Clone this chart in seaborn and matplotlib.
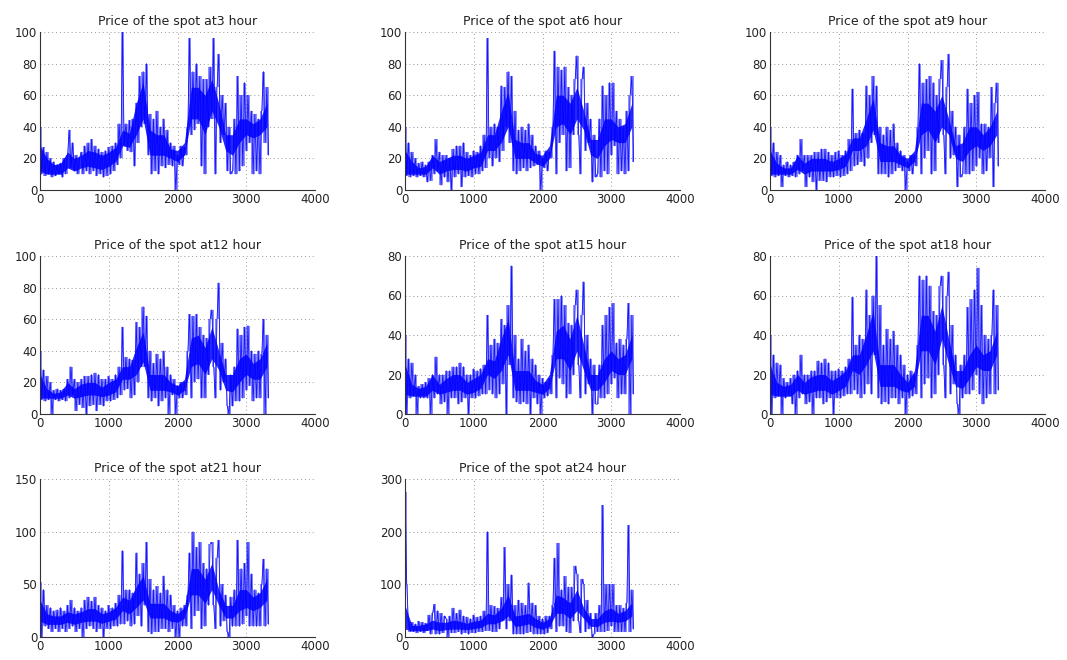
import numpy as np
import pandas as pd
import matplotlib
matplotlib.use("Agg")
import matplotlib.pyplot as plt
import seaborn as sns

# Daily spot price, sampled every 25 days, for eight hours of the day
step = 25
hours = [3, 6, 9, 12, 15, 18, 21, 24]

h3 = [
    40, 10, 27, 9, 24, 10, 20, 8,
    18, 9, 16, 10, 17, 8, 20, 10,
    22, 38, 14, 30, 12, 22, 10, 20,
    24, 10, 28, 12, 30, 10, 32, 12,
    28, 9, 26, 10, 24, 8, 25, 9,
    27, 10, 28, 12, 30, 16, 42, 20,
    100, 28, 42, 25, 44, 24, 45, 15,
    55, 30, 72, 40, 75, 42, 80, 22,
    48, 10, 45, 12, 50, 10, 40, 15,
    45, 14, 38, 16, 30, 15, 28, 0,
    22, 16, 28, 15, 27, 22, 40, 96,
    35, 75, 38, 80, 42, 72, 15, 70,
    10, 70, 40, 78, 45, 96, 10, 65,
    86, 30, 60, 35, 55, 12, 40, 10,
    12, 45, 10, 72, 12, 60, 15, 68,
    25, 60, 30, 50, 10, 48, 12, 45,
    10, 50, 75, 30, 65, 22]

h6 = [
    40, 9, 30, 8, 24, 9, 20, 8,
    17, 9, 18, 8, 16, 5, 18, 6,
    22, 10, 32, 12, 24, 3, 22, 8,
    22, 5, 20, 0, 26, 8, 28, 10,
    28, 2, 30, 8, 24, 9, 22, 8,
    25, 10, 24, 10, 28, 12, 35, 14,
    96, 20, 40, 15, 42, 20, 40, 18,
    66, 25, 65, 40, 75, 30, 72, 12,
    50, 10, 38, 12, 40, 14, 38, 12,
    42, 14, 35, 15, 28, 16, 25, 0,
    20, 14, 25, 12, 24, 20, 40, 88,
    10, 78, 30, 76, 35, 78, 12, 65,
    14, 60, 35, 70, 85, 35, 10, 70,
    78, 25, 55, 30, 45, 5, 35, 8,
    10, 45, 8, 66, 12, 60, 10, 68,
    22, 68, 28, 50, 10, 45, 12, 40,
    10, 50, 12, 60, 72, 18]

h9 = [
    40, 9, 30, 8, 24, 9, 22, 2,
    16, 9, 18, 8, 16, 9, 18, 8,
    22, 10, 32, 12, 22, 2, 22, 8,
    22, 5, 24, 0, 24, 6, 26, 6,
    26, 5, 24, 8, 22, 8, 24, 9,
    25, 8, 22, 9, 25, 10, 32, 12,
    64, 15, 36, 16, 38, 18, 36, 15,
    66, 20, 60, 30, 72, 35, 66, 10,
    40, 10, 35, 10, 40, 8, 38, 10,
    42, 12, 30, 14, 25, 12, 22, 0,
    18, 12, 22, 10, 22, 15, 40, 80,
    10, 68, 20, 70, 25, 72, 10, 68,
    12, 60, 30, 70, 82, 35, 10, 65,
    86, 20, 50, 22, 40, 2, 35, 8,
    10, 40, 10, 64, 10, 55, 12, 60,
    15, 62, 20, 42, 10, 42, 12, 40,
    20, 65, 2, 55, 68, 15]

h12 = [
    40, 9, 28, 8, 24, 9, 20, 0,
    15, 9, 16, 8, 15, 9, 16, 8,
    22, 10, 30, 12, 22, 2, 20, 6,
    22, 4, 24, 0, 24, 5, 25, 6,
    26, 2, 25, 6, 22, 5, 22, 8,
    24, 8, 22, 9, 25, 10, 30, 12,
    55, 15, 36, 16, 35, 10, 34, 12,
    58, 20, 55, 30, 68, 30, 62, 10,
    40, 8, 32, 10, 38, 5, 35, 8,
    40, 10, 30, 0, 25, 12, 22, 0,
    18, 10, 20, 10, 20, 12, 40, 63,
    10, 62, 20, 63, 22, 55, 10, 50,
    10, 48, 25, 60, 66, 30, 10, 60,
    83, 15, 45, 20, 35, 5, 0, 25,
    5, 30, 8, 54, 8, 50, 10, 55,
    15, 56, 18, 40, 8, 38, 10, 40,
    10, 38, 60, 0, 50, 10]

h15 = [
    40, 0, 28, 8, 26, 9, 20, 0,
    14, 8, 15, 8, 16, 8, 18, 0,
    20, 8, 29, 10, 20, 5, 20, 6,
    22, 0, 22, 8, 24, 8, 24, 5,
    26, 6, 24, 8, 20, 0, 20, 8,
    23, 8, 22, 9, 23, 10, 25, 10,
    50, 12, 35, 10, 38, 8, 36, 10,
    48, 15, 45, 0, 55, 25, 75, 8,
    40, 6, 28, 5, 38, 6, 32, 5,
    35, 0, 28, 8, 25, 5, 20, 0,
    18, 8, 16, 9, 18, 10, 30, 58,
    8, 58, 18, 60, 15, 55, 8, 46,
    10, 45, 20, 55, 63, 25, 8, 50,
    67, 10, 40, 15, 28, 0, 25, 5,
    5, 25, 8, 45, 8, 50, 10, 54,
    15, 56, 18, 36, 8, 38, 10, 35,
    10, 38, 56, 0, 50, 10]

h18 = [
    40, 0, 30, 8, 26, 9, 25, 0,
    18, 8, 16, 9, 18, 5, 20, 0,
    22, 8, 30, 10, 20, 5, 20, 6,
    22, 0, 22, 8, 27, 8, 26, 5,
    28, 6, 26, 8, 22, 0, 22, 8,
    23, 8, 22, 9, 24, 10, 28, 10,
    59, 12, 35, 10, 40, 8, 38, 10,
    63, 15, 50, 10, 60, 30, 80, 8,
    55, 5, 35, 6, 43, 5, 38, 8,
    42, 8, 35, 5, 30, 8, 25, 0,
    20, 8, 22, 9, 20, 10, 35, 70,
    8, 68, 15, 70, 18, 65, 8, 52,
    10, 50, 20, 65, 70, 25, 8, 60,
    72, 10, 45, 15, 30, 5, 0, 25,
    8, 30, 10, 54, 10, 58, 12, 63,
    20, 74, 10, 55, 5, 40, 8, 38,
    10, 40, 63, 10, 55, 12]

h21 = [
    52, 0, 45, 10, 30, 8, 28, 5,
    25, 8, 26, 5, 28, 8, 25, 5,
    30, 8, 35, 10, 28, 5, 25, 8,
    28, 0, 35, 8, 38, 10, 34, 8,
    38, 5, 30, 8, 28, 0, 25, 8,
    30, 8, 28, 10, 32, 10, 40, 12,
    82, 12, 45, 15, 45, 10, 42, 12,
    80, 20, 60, 10, 70, 30, 90, 5,
    55, 3, 45, 5, 48, 5, 42, 8,
    58, 8, 45, 5, 40, 8, 30, 0,
    25, 0, 28, 10, 30, 10, 40, 80,
    8, 100, 20, 85, 25, 90, 8, 70,
    10, 65, 30, 88, 90, 30, 8, 75,
    92, 10, 50, 15, 40, 5, 0, 38,
    10, 45, 10, 92, 10, 65, 12, 70,
    20, 90, 10, 60, 10, 45, 10, 42,
    10, 50, 74, 10, 65, 12]

h24 = [
    275, 100, 30, 10, 28, 10, 25, 8,
    30, 10, 28, 8, 26, 12, 42, 5,
    45, 62, 5, 50, 5, 45, 8, 40,
    35, 0, 40, 8, 55, 8, 45, 10,
    52, 5, 40, 8, 38, 5, 35, 8,
    42, 8, 38, 10, 40, 10, 50, 12,
    200, 12, 60, 10, 58, 10, 55, 15,
    75, 30, 170, 15, 100, 30, 118, 5,
    60, 5, 70, 5, 65, 5, 60, 8,
    103, 10, 65, 5, 60, 5, 40, 5,
    35, 5, 40, 8, 40, 15, 60, 150,
    10, 178, 20, 90, 20, 115, 10, 95,
    8, 95, 30, 135, 120, 30, 8, 110,
    100, 10, 70, 15, 45, 0, 5, 45,
    10, 60, 10, 250, 10, 100, 12, 100,
    20, 100, 10, 60, 10, 60, 10, 55,
    10, 65, 212, 10, 90, 15]

# Bulk of the daily prices (where most days fall), every 100 days
core_step = 100
lo3 = [12, 10, 10, 10, 14, 12, 14, 15, 14, 13, 15, 18, 28, 27, 35, 45, 22,
       22, 22, 20, 18, 22, 45, 45, 35, 50, 40, 25, 22, 30, 35, 33, 35, 40]
hi3 = [28, 20, 16, 17, 24, 20, 22, 25, 24, 22, 24, 27, 38, 36, 55, 68, 38,
       35, 35, 26, 25, 30, 65, 65, 60, 70, 55, 35, 35, 45, 45, 42, 45, 55]
lo6 = [10, 10, 10, 10, 14, 10, 12, 13, 13, 12, 14, 15, 25, 25, 30, 40, 20,
       20, 20, 17, 15, 20, 40, 42, 35, 45, 38, 22, 20, 28, 32, 30, 30, 40]
hi6 = [25, 18, 14, 15, 22, 18, 20, 22, 22, 20, 22, 24, 35, 35, 50, 62, 32,
       30, 30, 23, 22, 28, 60, 60, 55, 65, 50, 32, 32, 45, 45, 40, 42, 55]
lo9 = [10, 10, 10, 10, 13, 10, 12, 12, 12, 12, 13, 15, 25, 25, 28, 38, 18,
       18, 18, 16, 14, 18, 35, 38, 30, 40, 35, 20, 18, 25, 28, 25, 28, 35]
hi9 = [25, 17, 14, 14, 22, 17, 20, 20, 20, 18, 20, 23, 33, 33, 45, 58, 30,
       28, 28, 22, 20, 25, 55, 55, 50, 60, 45, 28, 30, 40, 40, 35, 40, 50]
lo12 = [10, 10, 10, 10, 12, 10, 11, 12, 12, 11, 12, 14, 22, 22, 25, 33, 15,
        15, 15, 14, 12, 15, 30, 32, 25, 35, 28, 15, 14, 20, 25, 22, 22, 30]
hi12 = [25, 16, 13, 14, 20, 16, 19, 20, 20, 17, 20, 22, 30, 30, 42, 52, 25,
        25, 25, 20, 18, 22, 48, 50, 42, 55, 40, 25, 25, 35, 38, 32, 35, 45]
lo15 = [10, 9, 9, 9, 12, 10, 11, 12, 12, 10, 11, 13, 20, 18, 22, 30, 12,
        12, 12, 11, 10, 13, 28, 28, 22, 32, 22, 12, 12, 16, 22, 20, 20, 28]
hi15 = [25, 15, 13, 14, 20, 15, 18, 20, 20, 16, 18, 20, 28, 27, 38, 48, 22,
        22, 22, 17, 15, 20, 42, 45, 38, 50, 35, 20, 20, 28, 32, 28, 30, 40]
lo18 = [10, 9, 9, 9, 12, 10, 11, 12, 12, 10, 12, 14, 22, 20, 25, 32, 14,
        14, 14, 12, 11, 14, 32, 32, 25, 38, 25, 14, 13, 18, 24, 22, 22, 30]
hi18 = [25, 16, 14, 15, 20, 16, 19, 20, 20, 17, 19, 22, 30, 30, 40, 52, 25,
        25, 25, 20, 16, 22, 50, 50, 42, 55, 38, 22, 22, 30, 35, 30, 32, 42]
lo21 = [15, 12, 12, 12, 14, 12, 14, 15, 15, 13, 15, 17, 25, 22, 28, 35, 18,
        18, 18, 15, 14, 18, 40, 40, 32, 45, 30, 18, 18, 25, 28, 25, 28, 35]
hi21 = [35, 22, 20, 20, 24, 22, 24, 27, 27, 22, 24, 28, 38, 35, 48, 58, 32,
        32, 32, 25, 22, 28, 65, 65, 55, 70, 45, 30, 30, 45, 45, 38, 42, 55]
lo24 = [15, 12, 12, 12, 15, 12, 14, 15, 15, 14, 16, 18, 25, 25, 30, 40, 20,
        22, 25, 18, 15, 20, 45, 45, 35, 50, 35, 20, 20, 28, 30, 28, 30, 40]
hi24 = [60, 22, 22, 25, 32, 28, 28, 32, 30, 26, 30, 32, 45, 42, 55, 80, 40,
        42, 45, 35, 28, 35, 80, 75, 65, 90, 55, 35, 35, 50, 55, 45, 50, 65]

series = [h3, h6, h9, h12, h15, h18, h21, h24]
cores = [(lo3, hi3), (lo6, hi6), (lo9, hi9), (lo12, hi12),
         (lo15, hi15), (lo18, hi18), (lo21, hi21), (lo24, hi24)]
y_limits = [100, 100, 100, 100, 80, 80, 150, 300]
y_steps = [20, 20, 20, 20, 20, 20, 50, 100]

sns.set_style("white")
plt.rcParams["font.family"] = ["DejaVu Sans"]

W, H = 1067, 660
fig = plt.figure(figsize=(W / 100, H / 100), dpi=100)

col_left = [40, 405, 770]
row_top = [32, 256, 479]
ax_w, ax_h = 275, 158
blue = "#0000ff"

for i, (hour, vals, (lo, hi)) in enumerate(zip(hours, series, cores)):
    r, c = divmod(i, 3)
    rect = [col_left[c] / W, (H - row_top[r] - ax_h) / H, ax_w / W, ax_h / H]
    ax = fig.add_axes(rect)

    v = np.asarray(vals, dtype=float)
    days = np.arange(len(v)) * step

    # range swept by the trace between consecutive samples
    seg_lo = np.append(np.minimum(v[:-1], v[1:]), v[-1])
    seg_hi = np.append(np.maximum(v[:-1], v[1:]), v[-1])
    ax.fill_between(days, seg_lo, seg_hi, step="post", color=blue,
                    alpha=0.45, linewidth=0)

    core_x = np.arange(len(lo)) * core_step
    ax.fill_between(core_x, lo, hi, color=blue, alpha=0.85, linewidth=0)

    df = pd.DataFrame({"day": days, "price": v})
    sns.lineplot(data=df, x="day", y="price", ax=ax, color=blue, alpha=0.85,
                 linewidth=0.6, estimator=None, sort=False)

    ax.set_xlim(0, 4000)
    ax.set_ylim(0, y_limits[i])
    ax.set_xticks(np.arange(0, 4001, 1000))
    ax.set_yticks(np.arange(0, y_limits[i] + 1, y_steps[i]))
    ax.set_xlabel("")
    ax.set_ylabel("")
    ax.set_title(f"Price of the spot at{hour} hour", fontsize=9, pad=5,
                 color="#222222")
    ax.grid(True, linestyle=(0, (1, 3)), color="#9a9a9a", linewidth=0.7)
    ax.set_axisbelow(True)
    for side in ("top", "right"):
        ax.spines[side].set_visible(False)
    for side in ("left", "bottom"):
        ax.spines[side].set_color("#333333")
        ax.spines[side].set_linewidth(0.8)
    ax.tick_params(direction="in", length=3, width=0.7, labelsize=8.5,
                   colors="#222222", pad=2)

fig.savefig("out.png", dpi=100)
